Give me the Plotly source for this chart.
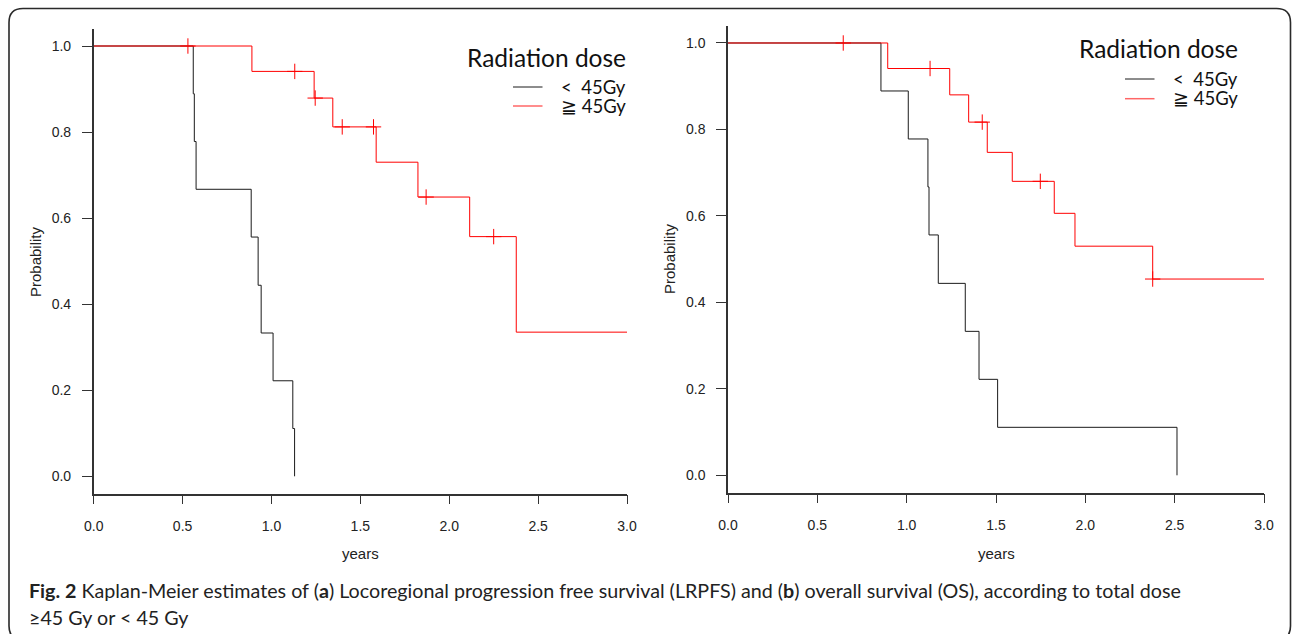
import plotly.graph_objects as go

# ---------------- data ----------------
# Panel a: Locoregional progression free survival
a_low_t = [0.0, 0.560, 0.566, 0.576, 0.886, 0.925, 0.942, 1.009, 1.120, 1.130]
a_low_s = [1.0, 0.889, 0.778, 0.667, 0.556, 0.444, 0.333, 0.222, 0.111, 0.0]
a_high_t = [0.0, 0.890, 1.240, 1.345, 1.589, 1.824, 2.115, 2.377, 3.0]
a_high_s = [1.0, 0.941, 0.879, 0.812, 0.730, 0.649, 0.557, 0.335, 0.335]
a_cens_t = [0.530, 1.131, 1.246, 1.398, 1.574, 1.870, 2.250]
a_cens_s = [1.0, 0.941, 0.879, 0.812, 0.812, 0.649, 0.557]

# Panel b: Overall survival
b_low_t = [0.0, 0.856, 1.009, 1.119, 1.125, 1.177, 1.328, 1.405, 1.509, 2.513]
b_low_s = [1.0, 0.889, 0.778, 0.667, 0.556, 0.444, 0.333, 0.222, 0.111, 0.0]
b_high_t = [0.0, 0.894, 1.241, 1.347, 1.451, 1.591, 1.826, 1.942, 2.377, 3.0]
b_high_s = [1.0, 0.941, 0.880, 0.817, 0.747, 0.680, 0.606, 0.530, 0.454, 0.454]
b_cens_t = [0.645, 1.131, 1.423, 1.748, 2.377]
b_cens_s = [1.0, 0.941, 0.817, 0.680, 0.454]

x_ticks = [0.0, 0.5, 1.0, 1.5, 2.0, 2.5, 3.0]
y_ticks = [0.0, 0.2, 0.4, 0.6, 0.8, 1.0]
legend_title = "Radiation dose"
legend_labels = ["&lt;\u00a0\u00a045Gy", "\u2267 45Gy"]

W, H = 1292, 634
def px(x):
    return x / W
def py(y):
    return 1 - y / H

BLACK = "#1a1a1a"
RED = "#ff0000"
AXC = "#333333"
TICKFONT = dict(family="Liberation Sans, Arial, sans-serif", size=14, color="#222222")

fig = go.Figure()

def add_panel(xa, ya, lt, ls, ht, hs, ct, cs):
    fig.add_trace(go.Scatter(x=lt, y=ls, mode="lines", line=dict(shape="hv", color=BLACK, width=1),
                             xaxis=xa, yaxis=ya, showlegend=False, hoverinfo="skip"))
    fig.add_trace(go.Scatter(x=ht, y=hs, mode="lines", line=dict(shape="hv", color=RED, width=1),
                             xaxis=xa, yaxis=ya, showlegend=False, hoverinfo="skip"))
    fig.add_trace(go.Scatter(x=ct, y=cs, mode="markers",
                             marker=dict(symbol="cross-thin", size=11, line=dict(color=RED, width=1), color=RED),
                             xaxis=xa, yaxis=ya, showlegend=False, hoverinfo="skip", cliponaxis=False))

add_panel("x", "y", a_low_t, a_low_s, a_high_t, a_high_s, a_cens_t, a_cens_s)
add_panel("x2", "y2", b_low_t, b_low_s, b_high_t, b_high_s, b_cens_t, b_cens_s)

def xaxis_cfg(domain, anchor):
    return dict(domain=domain, anchor=anchor, range=[0, 3], tickvals=x_ticks,
                ticktext=[f"{v:.1f}" for v in x_ticks], showline=True, linecolor=AXC, linewidth=1.5,
                ticks="outside", ticklen=9, tickwidth=1, tickcolor=AXC, tickfont=TICKFONT,
                showgrid=False, zeroline=False, ticklabelstandoff=10, fixedrange=True,
                automargin=False)

def yaxis_cfg(domain, anchor):
    return dict(domain=domain, anchor=anchor, range=[-0.04, 1.04], tickvals=y_ticks,
                ticktext=[f"{v:.1f}" for v in y_ticks], showline=True, linecolor=AXC, linewidth=1.5,
                ticks="outside", ticklen=10, tickwidth=1, tickcolor=AXC, tickfont=TICKFONT,
                showgrid=False, zeroline=False, ticklabelstandoff=8, fixedrange=True,
                automargin=False)

fig.update_layout(
    width=W, height=H, autosize=False,
    margin=dict(l=0, r=0, t=0, b=0, pad=0, autoexpand=False),
    paper_bgcolor="white", plot_bgcolor="white",
    xaxis=xaxis_cfg([px(93.7), px(627)], "y"),
    yaxis=yaxis_cfg([py(493.5), py(28.8)], "x"),
    xaxis2=xaxis_cfg([px(728), px(1264)], "y2"),
    yaxis2=yaxis_cfg([py(492.6), py(25.7)], "x2"),
    showlegend=False,
)

ann = []
shapes = []
AXTITLE = dict(family="Liberation Sans, Arial, sans-serif", size=15, color="#222222")
# axis titles
ann.append(dict(text="Probability", x=px(35), y=py(262), xref="paper", yref="paper", textangle=-90,
                showarrow=False, font=AXTITLE, xanchor="center", yanchor="middle"))
ann.append(dict(text="Probability", x=px(669), y=py(259), xref="paper", yref="paper", textangle=-90,
                showarrow=False, font=AXTITLE, xanchor="center", yanchor="middle"))
ann.append(dict(text="years", x=px(360), y=py(553), xref="paper", yref="paper",
                showarrow=False, font=AXTITLE, xanchor="center", yanchor="middle"))
ann.append(dict(text="years", x=px(996), y=py(553), xref="paper", yref="paper",
                showarrow=False, font=AXTITLE, xanchor="center", yanchor="middle"))

LEGTITLE = dict(family="Lato, sans-serif", size=24.5, color="#111111")
# line spacing of a multi-line annotation follows its base font size (1.3 x size)
LEGITEM = dict(family="Lato, sans-serif", size=14.8, color="#111111")
ITEM_PX = 18.5

def add_legend(title_x1, title_y, line_x0, line_x1, y_black, y_red, text_x):
    ann.append(dict(text=legend_title, x=px(title_x1), y=py(title_y), xref="paper", yref="paper",
                    showarrow=False, font=LEGTITLE, xanchor="right", yanchor="middle"))
    for yy, col in [(y_black, BLACK), (y_red, "rgba(255,0,0,0.6)")]:
        shapes.append(dict(type="line", xref="paper", yref="paper", x0=px(line_x0), x1=px(line_x1),
                           y0=py(yy), y1=py(yy), line=dict(color=col, width=1.5 if col != BLACK else 1)))
    txt = "<br>".join(f"<span style='font-size:{ITEM_PX}px'>{lab}</span>" for lab in legend_labels)
    ann.append(dict(text=txt, x=px(text_x), y=py((y_black + y_red) / 2), xref="paper", yref="paper",
                    showarrow=False, font=LEGITEM, xanchor="left", yanchor="middle", align="left"))

add_legend(628, 57, 513, 542.5, 87, 106, 559)
add_legend(1240, 49, 1125, 1154.5, 79, 98.7, 1171)

CAP = dict(family="Lato, sans-serif", size=19.7, color="#222222")
ann.append(dict(text="<b>Fig. 2</b> Kaplan-Meier estimates of (<b>a</b>) Locoregional progression free survival (LRPFS) "
                     "and (<b>b</b>) overall survival (OS), according to total dose",
                x=px(27), y=py(590), xref="paper", yref="paper", showarrow=False, font=CAP,
                xanchor="left", yanchor="middle"))
ann.append(dict(text="\u226545 Gy or &lt; 45 Gy", x=px(27), y=py(617), xref="paper", yref="paper",
                showarrow=False, font=CAP, xanchor="left", yanchor="middle"))

# outer rounded frame
r = 14
x0, y0, x1, y1 = 9, 8.5, 1290.5, 640
def P(x, y):
    return f"{px(x)},{py(y)}"
path = (f"M {P(x0, y0 + r)} Q {P(x0, y0)} {P(x0 + r, y0)} L {P(x1 - r, y0)} Q {P(x1, y0)} {P(x1, y0 + r)} "
        f"L {P(x1, y1 - r)} Q {P(x1, y1)} {P(x1 - r, y1)} L {P(x0 + r, y1)} Q {P(x0, y1)} {P(x0, y1 - r)} Z")
shapes.append(dict(type="path", xref="paper", yref="paper", path=path, line=dict(color="#2a2a2a", width=1.6)))

fig.update_layout(annotations=ann, shapes=shapes)
fig.write_html("out.html", config={"displayModeBar": False, "responsive": False},
               post_script="document.body.style.margin='0';document.body.style.overflow='hidden';")
